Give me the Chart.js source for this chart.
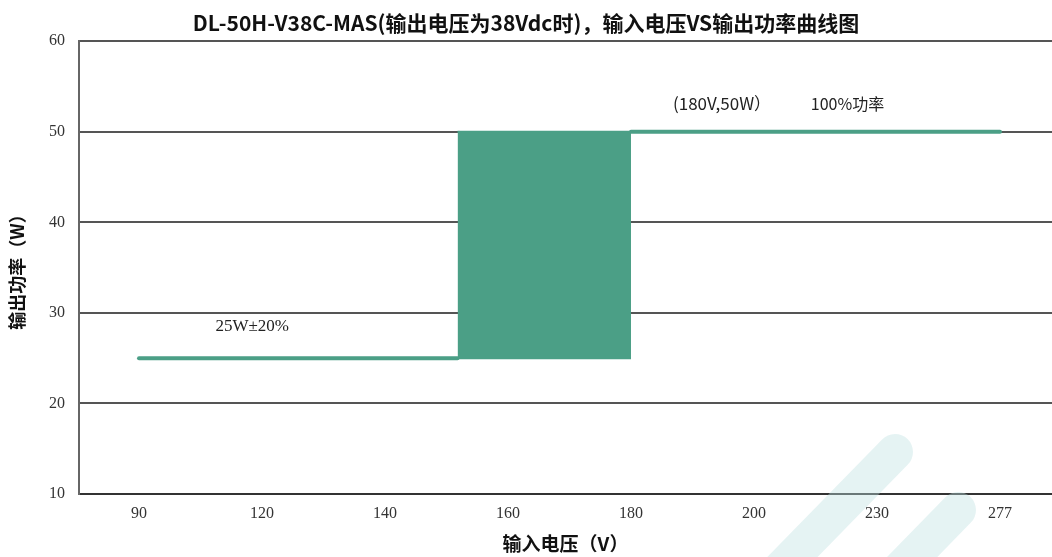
<!DOCTYPE html>
<html>
<head>
<meta charset="utf-8">
<script src="https://cdn.jsdelivr.net/npm/chart.js@4"></script>
<style>
html,body{margin:0;padding:0;background:#fff;overflow:hidden;}
#wrap{width:1052px;height:557px;}
</style>
</head>
<body>
<div id="wrap"><canvas id="c" width="1052" height="557"></canvas></div>
<script>
// ---- data ----
const categories = ['90', '120', '140', '160', '180', '200', '230', '277'];
const yTicks = [10, 20, 30, 40, 50, 60];
// x values are positions on the category axis (index of category)
const lowLineX = [0, 2.59];
const lowLineY = [25, 25];
const bandX = [2.59, 4];
const bandLow = [25, 25];
const bandHigh = [50, 50];
const highLineX = [4, 7];
const highLineY = [50, 50];
const titleText = 'DL-50H-V38C-MAS(输出电压为38Vdc时)，输入电压VS输出功率曲线图';
const xTitle = '输入电压（V）';
const yTitle = '输出功率（W）';
const noteTexts = ['25W±20%', '(180V,50W）', '100%功率'];
const noteX = [0.92, 4.74, 5.76];
const noteY = [28.5, 53.1, 53.1];

const green = '#4b9f86';
const pts = (xs, ys) => xs.map((x, i) => ({x: x, y: ys[i]}));

const notesPlugin = {
  id: 'notes',
  afterDatasetsDraw(chart) {
    const ctx = chart.ctx, xs = chart.scales.x, ys = chart.scales.y;
    ctx.save();
    ctx.fillStyle = '#222';
    ctx.textAlign = 'center';
    ctx.textBaseline = 'middle';
    const fonts = ['17px "Liberation Serif"', '17px "Noto Sans CJK SC"', '16px "Noto Sans CJK SC"'];
    noteTexts.forEach((t, i) => {
      ctx.font = fonts[i];
      ctx.fillText(t, xs.getPixelForValue(noteX[i]), ys.getPixelForValue(noteY[i]));
    });
    ctx.restore();
  },
  afterDraw(chart) {
    // faint watermark strokes
    const ctx = chart.ctx;
    ctx.save();
    ctx.strokeStyle = 'rgba(190,225,225,0.4)';
    ctx.lineWidth = 36;
    ctx.lineCap = 'round';
    ctx.beginPath();
    ctx.moveTo(895, 452); ctx.lineTo(770, 580);
    ctx.moveTo(958, 510); ctx.lineTo(880, 590);
    ctx.stroke();
    ctx.restore();
  }
};

new Chart(document.getElementById('c'), {
  type: 'line',
  data: {
    datasets: [
      {data: pts(lowLineX, lowLineY), borderColor: green, borderWidth: 4, borderCapStyle: 'round', pointRadius: 0, fill: false},
      {data: pts(bandX, bandLow), borderColor: green, borderWidth: 2, pointRadius: 0, fill: false},
      {data: pts(bandX, bandHigh), borderColor: green, borderWidth: 2, pointRadius: 0, backgroundColor: green, fill: '-1'},
      {data: pts(highLineX, highLineY), borderColor: green, borderWidth: 4, borderCapStyle: 'round', pointRadius: 0, fill: false}
    ]
  },
  options: {
    responsive: false,
    animation: false,
    layout: {padding: {left: 0, right: 0, top: 0, bottom: 0}},
    plugins: {
      legend: {display: false},
      tooltip: {enabled: false},
      title: {
        display: true, text: titleText, color: '#111',
        font: {family: '"Noto Sans CJK SC"', size: 21, weight: 'bold'},
        padding: {top: 10, bottom: 6}
      }
    },
    scales: {
      x: {
        type: 'linear', min: -0.488, max: 7.423,
        afterBuildTicks(s) { s.ticks = categories.map((c, i) => ({value: i})); },
        afterFit(s) { s.height = 63; },
        ticks: {
          callback: (v) => categories[v], color: '#333', padding: 10,
          font: {family: '"Liberation Serif"', size: 16}, maxRotation: 0, autoSkip: false
        },
        grid: {display: false, drawTicks: false},
        border: {display: true, color: '#333', width: 2},
        title: {display: true, text: xTitle, color: '#111', padding: {top: 4, bottom: 2},
          font: {family: '"Noto Sans CJK SC"', size: 19, weight: 'bold'}}
      },
      y: {
        min: 10, max: 60,
        afterBuildTicks(s) { s.ticks = yTicks.map(v => ({value: v})); },
        afterFit(s) { s.width = 79; },
        ticks: {color: '#333', padding: 14, font: {family: '"Liberation Serif"', size: 16}},
        grid: {color: '#555', lineWidth: 2, drawTicks: false},
        border: {display: true, color: '#666', width: 2},
        title: {display: true, text: yTitle, color: '#111', padding: {top: 6, bottom: 8},
          font: {family: '"Noto Sans CJK SC"', size: 18, weight: 'bold'}}
      }
    }
  },
  plugins: [notesPlugin]
});
</script>
</body>
</html>
